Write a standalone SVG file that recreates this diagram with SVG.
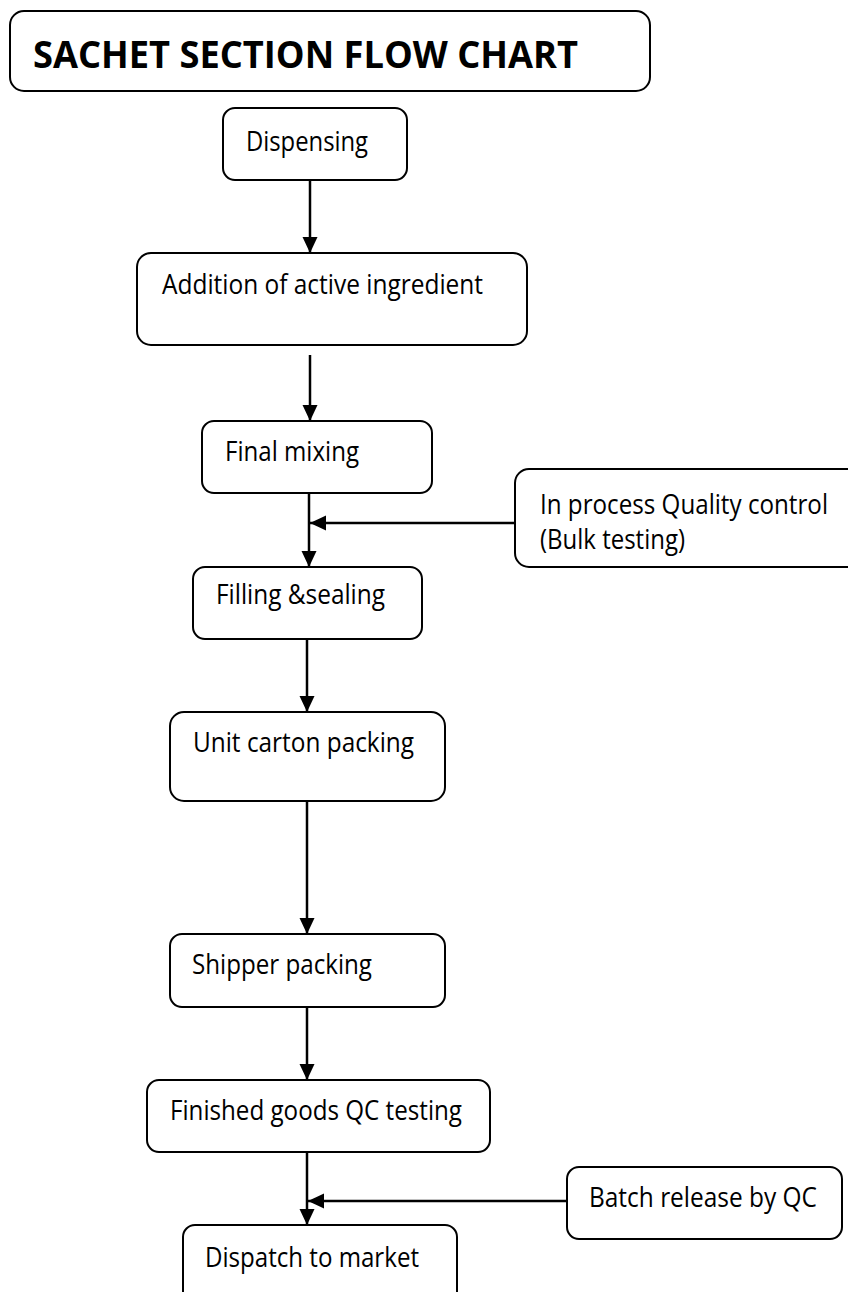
<svg xmlns="http://www.w3.org/2000/svg" width="848" height="1292" viewBox="0 0 848 1292">
  <style>
    .box { fill: #ffffff; stroke: #000000; stroke-width: 2; }
    .lbl { font-family: "Open Sans", "Noto Sans", sans-serif; font-size: 26.5px; fill: #000000; }
    .title { font-family: "Open Sans", "Noto Sans", sans-serif; font-size: 38px; font-weight: bold; fill: #000000; }
    .edge { stroke: #000000; stroke-width: 2.5; fill: none; marker-end: url(#head); }
  </style>
  <defs>
    <marker id="head" markerUnits="userSpaceOnUse" markerWidth="16" markerHeight="16" viewBox="0 0 16 16" refX="16" refY="8" orient="auto">
      <path d="M0,0.5 L16,8 L0,15.5 Z" fill="#000000"/>
    </marker>
  </defs>
  <rect width="848" height="1292" fill="#ffffff"/>

  <g id="title">
    <rect class="box" x="10" y="11" width="640" height="80" rx="14"/>
    <text class="title" x="33" y="68" textLength="545" lengthAdjust="spacingAndGlyphs">SACHET SECTION FLOW CHART</text>
  </g>

  <g id="connectors">
    <line class="edge" x1="310" y1="180" x2="310" y2="253"/>
    <line class="edge" x1="310" y1="355" x2="310" y2="421"/>
    <line class="edge" x1="309" y1="493" x2="309" y2="567"/>
    <line class="edge" x1="515" y1="523" x2="310" y2="523"/>
    <line class="edge" x1="307" y1="639" x2="307" y2="712"/>
    <line class="edge" x1="307" y1="801" x2="307" y2="934"/>
    <line class="edge" x1="307" y1="1007" x2="307" y2="1080"/>
    <line class="edge" x1="307" y1="1152" x2="307" y2="1225"/>
    <line class="edge" x1="567" y1="1201" x2="308" y2="1201"/>
  </g>

  <g id="dispensing">
    <rect class="box" x="223" y="108" width="184" height="72" rx="12"/>
    <text class="lbl" x="246" y="151" textLength="122" lengthAdjust="spacingAndGlyphs">Dispensing</text>
  </g>

  <g id="addition">
    <rect class="box" x="137" y="253" width="390" height="92" rx="14"/>
    <text class="lbl" x="162" y="294" textLength="321" lengthAdjust="spacingAndGlyphs">Addition of active ingredient</text>
  </g>

  <g id="final-mixing">
    <rect class="box" x="202" y="421" width="230" height="72" rx="12"/>
    <text class="lbl" x="225" y="461" textLength="134" lengthAdjust="spacingAndGlyphs">Final mixing</text>
  </g>

  <g id="inprocess-qc">
    <rect class="box" x="515" y="469" width="360" height="98" rx="14"/>
    <text class="lbl" x="540" y="514" textLength="288" lengthAdjust="spacingAndGlyphs">In process Quality control</text>
    <text class="lbl" x="540" y="549" textLength="145" lengthAdjust="spacingAndGlyphs">(Bulk testing)</text>
  </g>

  <g id="filling-sealing">
    <rect class="box" x="193" y="567" width="229" height="72" rx="12"/>
    <text class="lbl" x="216" y="604" textLength="169" lengthAdjust="spacingAndGlyphs">Filling &amp;sealing</text>
  </g>

  <g id="unit-carton">
    <rect class="box" x="170" y="712" width="275" height="89" rx="14"/>
    <text class="lbl" x="193" y="752" textLength="221" lengthAdjust="spacingAndGlyphs">Unit carton packing</text>
  </g>

  <g id="shipper">
    <rect class="box" x="170" y="934" width="275" height="73" rx="12"/>
    <text class="lbl" x="192" y="974" textLength="180" lengthAdjust="spacingAndGlyphs">Shipper packing</text>
  </g>

  <g id="finished-qc">
    <rect class="box" x="147" y="1080" width="343" height="72" rx="12"/>
    <text class="lbl" x="170" y="1120" textLength="292" lengthAdjust="spacingAndGlyphs">Finished goods QC testing</text>
  </g>

  <g id="batch-release">
    <rect class="box" x="567" y="1167" width="275" height="72" rx="12"/>
    <text class="lbl" x="589" y="1207" textLength="228" lengthAdjust="spacingAndGlyphs">Batch release by QC</text>
  </g>

  <g id="dispatch">
    <rect class="box" x="183" y="1225" width="274" height="90" rx="12"/>
    <text class="lbl" x="205" y="1267" textLength="214" lengthAdjust="spacingAndGlyphs">Dispatch to market</text>
  </g>
</svg>
